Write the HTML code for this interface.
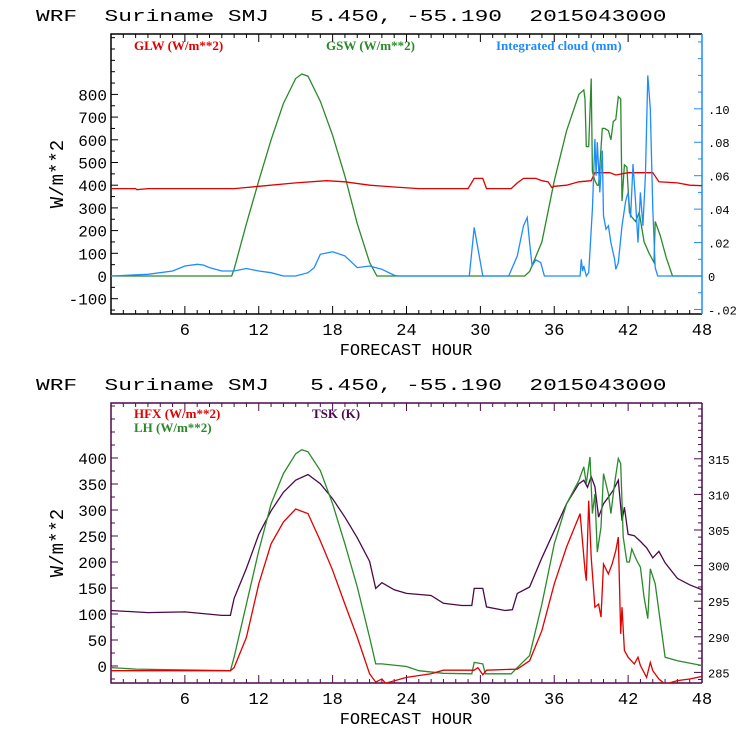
<!DOCTYPE html>
<html><head><meta charset="utf-8">
<style>
html,body{margin:0;padding:0;background:#fff;}
svg{display:block;}
text{font-family:"Liberation Mono",monospace;}
.ttl{white-space:pre;}
</style></head>
<body>
<svg id="c" width="740" height="740" viewBox="0 0 740 740" xmlns="http://www.w3.org/2000/svg">
<text class="ttl" xml:space="preserve" x="0" y="0" font-size="17" transform="translate(36,21) scale(1.345,1)">WRF  Suriname SMJ   5.450, -55.190  2015043000</text>
<text class="ttl" xml:space="preserve" x="0" y="0" font-size="17" transform="translate(36,390) scale(1.345,1)">WRF  Suriname SMJ   5.450, -55.190  2015043000</text>
<g id="top"></g>
<g id="bot"></g>
</svg>
<script>
// ---- top chart data ----
const glwHours=[0,2,2.1,3,10,11,12,15,17.5,19,21,23,25,29,29.5,30.2,30.5,32.5,33,33.5,34.5,35,35.5,35.8,36,37,38,39,39.3,40.5,41,42,44,44.5,46,47,48];
const glwVals=[385,385,380,385,385,390,395,410,420,415,400,392,385,385,430,430,385,385,410,430,430,420,415,390,395,400,415,420,455,455,445,455,455,415,410,400,398];
const gswHours=[0,9.8,10,11,12,13,14,15,15.5,16,17,18,19,20,21,21.6,33.6,34,35,36,37,38,38.4,38.5,38.6,38.8,39.0,39.1,39.3,39.5,39.6,39.9,40.1,40.4,40.6,40.8,41.0,41.2,41.4,41.5,41.7,41.9,42.1,42.3,42.6,42.9,43.3,43.7,44.1,44.2,44.6,45.1,45.6,48];
const gswVals=[0,0,30,230,420,600,760,870,890,880,770,620,440,230,60,0,0,20,150,420,640,800,820,780,570,570,870,460,420,400,400,650,650,640,600,680,690,790,780,330,490,480,280,260,240,280,150,100,60,240,180,80,0,0];
const cloudHours=[0,3,5,6,7,7.5,8,9,10,11,12,13,14,15,16,16.5,17,18,19,20,21,22,23,23.3,29.1,29.5,30.2,32.3,33,33.5,33.8,34,34.2,34.5,34.9,35.2,38.1,38.2,38.3,38.4,38.6,38.8,39.1,39.3,39.4,39.5,39.7,39.9,40.0,40.2,40.4,40.6,40.9,41.0,41.2,41.5,41.8,42.0,42.2,42.4,42.6,42.8,43.0,43.2,43.4,43.6,43.8,44.0,44.2,44.4,48];
const cloudVals=[0,0.001,0.003,0.006,0.007,0.0066,0.005,0.003,0.003,0.0045,0.003,0.002,0,0,0.002,0.005,0.013,0.0145,0.012,0.005,0.006,0.004,0.0005,0,0,0.029,0,0,0.012,0.03,0.035,0.02,0.006,0.0096,0.008,0,0,0.01,0.003,0.006,0,0.002,0.04,0.082,0.06,0.08,0.05,0.075,0.036,0.028,0.03,0.02,0.01,0.004,0.008,0.03,0.045,0.05,0.035,0.067,0.045,0.02,0.05,0.03,0.06,0.12,0.1,0.04,0.005,0,0];
const topYTicks=[-100,0,100,200,300,400,500,600,700,800];
const topRTicks=[-0.02,0,0.02,0.04,0.06,0.08,0.10];
const topRLabels=["-.02","0",".02",".04",".06",".08",".10"];
const xTicks=[6,12,18,24,30,36,42,48];
// ---- bottom chart data ----
const tskHours=[0,3,6,9,9.7,10,11,12,13,14,15,16,17,18,19,20,21,21.5,22,23,24,26,27,28.5,29.3,29.5,30.2,30.5,32,32.6,33,34,35,36,37,38,38.4,38.7,39,39.3,39.6,40,40.4,40.8,41.2,41.5,41.7,42,42.5,43,43.5,44,44.5,45,46,47,48];
const tskVals=[293.7,293.4,293.5,293.0,293.0,295.4,299.6,304.4,307.7,310.3,312.0,312.8,311.5,309.4,306.8,303.9,300.6,296.8,297.6,296.6,296.1,295.8,294.7,294.4,294.4,296.8,296.8,294.2,293.7,293.8,296.1,297.0,301.1,304.9,308.7,311.5,312.0,311.0,312.5,311.1,306.8,308.7,309.6,310.6,312.0,306.3,308.2,304.4,304.2,303.4,302.5,301.1,302.0,300.4,298.2,297.3,296.6];
const hfxHours=[0,9.7,10,11,12,13,14,15,16,17,18,19,20,21,21.5,22,22.3,24,26,27,29.5,29.8,30.2,30.5,33,34,35,36,37,38.1,38.5,38.6,38.8,39,39.3,39.6,39.8,40,40.4,40.7,41.0,41.2,41.4,41.5,41.7,42,42.5,42.8,43,43.5,43.8,44,44.5,45,46,47,48];
const hfxVals=[-9,-9,-3,55,158,235,277,302,293,241,184,119,55,-15,-31,-25,-33,-22,-15,-8,-8,-3,-17,-8,-6,10,68,158,229,293,184,164,318,209,113,119,94,196,177,196,222,248,62,113,30,17,4,17,1,-22,7,-9,-25,-35,-28,-25,-20];
const lhHours=[0,2,9.7,10,11,12,13,14,15,15.5,16,17,18,19,20,21,21.5,22,24,25,27,29.3,29.5,30.2,30.4,32.5,33,34,35,36,37,38,38.4,38.6,38.9,39.1,39.3,39.5,39.8,40,40.4,40.6,40.9,41.2,41.4,41.6,41.9,42.1,42.3,42.7,43.0,43.3,43.6,43.8,44.2,45,46,48];
const lhVals=[-3,-6,-9,17,119,222,312,370,408,416,412,376,312,235,152,55,4,4,-1,-9,-14,-15,7,4,-15,-15,-3,20,119,235,312,357,383,351,402,293,331,219,267,370,331,293,351,399,389,248,200,200,225,203,190,132,91,187,158,17,10,1];
const botYTicks=[0,50,100,150,200,250,300,350,400];
const botRTicks=[285,290,295,300,305,310,315];

const NS="http://www.w3.org/2000/svg";
function mk(parent,tag,attrs){const e=document.createElementNS(NS,tag);for(const k in attrs)e.setAttribute(k,attrs[k]);parent.appendChild(e);return e;}
const X0=111,X1=702;
const xs=h=>X0+(X1-X0)*h/48;
const T={top:34,bot:314};
const ty=v=>276-v*0.227;
const tyR=v=>276-v*1672;
const B={top:403,bot:683};
const by=v=>666-v*0.52;
const byR=v=>672.4-(v-285)*7.12;

function clipPath(id,top,bot){
  const defs=mk(document.getElementById('c'),'defs',{});
  const cp=mk(defs,'clipPath',{id:id});
  mk(cp,'rect',{x:X0,y:top,width:X1-X0,height:bot-top});
}
clipPath('ct',T.top,T.bot);clipPath('cb',B.top,B.bot);

function line(g,hours,vals,yf,color,name,clip){
  const pts=hours.map((h,i)=>xs(h).toFixed(1)+','+yf(vals[i]).toFixed(1)).join(' ');
  const p=mk(g,'polyline',{points:pts,fill:'none',stroke:color,'stroke-width':1.3,'clip-path':'url(#'+clip+')'});
  
  
}

function frame(g,top,bot,color,rightColor,yTicks,yf,minorStep,yMin,yMax,rTicks,rLabels,yr,rMinor,rMin,rMax){
  for(let h=1;h<48;h++){
    const x=xs(h),maj=h%6===0;
    mk(g,'line',{x1:x,x2:x,y1:bot,y2:bot-(maj?8:4),stroke:color,'stroke-width':1});
    mk(g,'line',{x1:x,x2:x,y1:top,y2:top+(maj?8:4),stroke:color,'stroke-width':1});
  }
  xTicks.forEach(h=>{
    const t=mk(g,'text',{x:xs(h),y:bot+21,'font-size':17,'text-anchor':'middle',fill:'#000'});
    t.textContent=h;
    
    
  });
  for(let v=yMin;v<=yMax;v+=minorStep){
    const y=yf(v); if(y<top||y>bot)continue;
    const maj=yTicks.includes(v);
    mk(g,'line',{x1:X0,x2:X0+(maj?7:4),y1:y,y2:y,stroke:color,'stroke-width':1});
  }
  yTicks.forEach(v=>{
    const t=mk(g,'text',{x:X0-4,y:yf(v)+6,'font-size':16,'text-anchor':'end',fill:'#000'});
    t.textContent=v;
    
    
  });
  for(let v=rMin;v<=rMax+1e-9;v+=rMinor){
    const y=yr(v); if(y<top||y>bot)continue;
    const maj=rTicks.some(r=>Math.abs(r-v)<1e-6);
    mk(g,'line',{x1:X1,x2:X1-(maj?8:4),y1:y,y2:y,stroke:rightColor,'stroke-width':1});
  }
  rTicks.forEach((v,i)=>{
    const t=mk(g,'text',{x:X1+6,y:yr(v)+5,'font-size':12,fill:'#000'});
    t.textContent=rLabels[i];
    
    
  });
  mk(g,'path',{d:`M${X1},${top}H${X0}V${bot}H${X1}`,fill:'none',stroke:color,'stroke-width':1.5});
  mk(g,'line',{x1:X1,x2:X1,y1:top,y2:bot,stroke:rightColor,'stroke-width':1.5});
  const xt=mk(g,'text',{x:406,y:bot+41,'font-size':17,'text-anchor':'middle',fill:'#000'});
  xt.textContent='FORECAST HOUR';
  
  
  const cy=(top+bot)/2;
  const yt=mk(g,'text',{x:0,y:0,'font-size':19,'text-anchor':'middle',fill:'#000',transform:`translate(63,${cy}) rotate(-90)`});
  yt.textContent='W/m**2';
  
  
}
function legend(g,x,y,txt,color){
  const t=mk(g,'text',{x:x,y:y,'font-size':13,'font-weight':'bold',fill:color,style:'font-family:"Liberation Serif",serif'});
  t.textContent=txt;
  
  
}
const RED='#e00000',GREEN='#2a8a2a',BLUE='#1e8cff',PURP='#4a0a4a';
const gt=document.getElementById('top');
frame(gt,T.top,T.bot,'#000',BLUE,topYTicks,ty,50,-150,1050,topRTicks,topRLabels,tyR,0.01,-0.02,0.14);
legend(gt,134,50,'GLW (W/m**2)',RED);
legend(gt,326,50,'GSW (W/m**2)',GREEN);
legend(gt,496,50,'Integrated cloud (mm)',BLUE);
line(gt,gswHours,gswVals,ty,GREEN,'gsw-line','ct');
line(gt,glwHours,glwVals,ty,RED,'glw-line','ct');
line(gt,cloudHours,cloudVals,tyR,BLUE,'cloud-line','ct');

const gb=document.getElementById('bot');
frame(gb,B.top,B.bot,PURP,PURP,botYTicks,by,25,-25,525,botRTicks,botRTicks.map(String),byR,1,284,323);
legend(gb,134,418,'HFX (W/m**2)',RED);
legend(gb,134,432,'LH  (W/m**2)',GREEN);
legend(gb,312,418,'TSK (K)',PURP);
line(gb,tskHours,tskVals,byR,PURP,'tsk-line','cb');
line(gb,lhHours,lhVals,by,GREEN,'lh-line','cb');
line(gb,hfxHours,hfxVals,by,RED,'hfx-line','cb');
</script>
</body></html>
